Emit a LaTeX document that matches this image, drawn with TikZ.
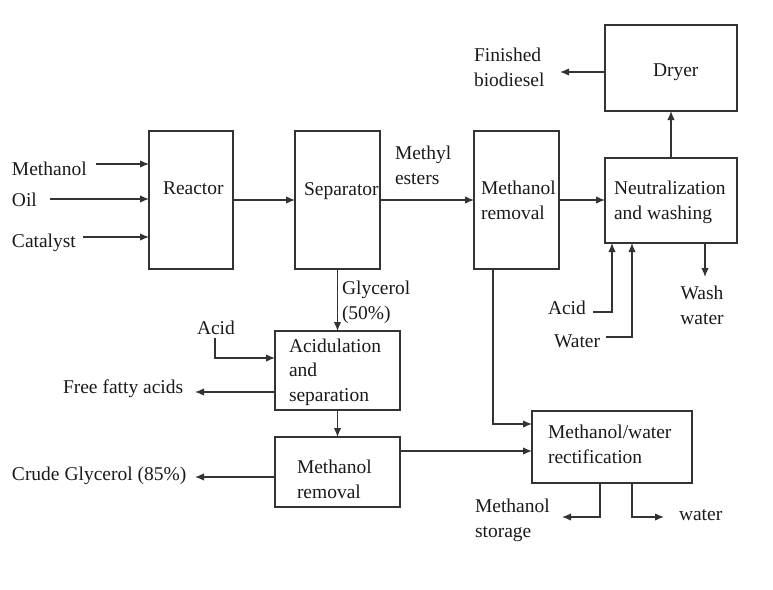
\documentclass[tikz,border=0pt]{standalone}
\usepackage{fontspec}
\setmainfont{Liberation Serif}
\usetikzlibrary{arrows.meta}
\definecolor{ln}{HTML}{333333}
\definecolor{tx}{HTML}{1A1A1A}
\tikzset{
  box/.style={draw=ln, line width=1.3pt, rectangle, inner sep=0pt, outer sep=0pt},
  lbl/.style={anchor=base west, inner sep=0pt, outer sep=0pt, align=left, text=tx, font=\fontsize{19.5}{24.5}\selectfont},
  arr/.style={draw=ln, line width=1.3pt, -{Latex[length=9pt,width=7.5pt]}}
}
\begin{document}
\begin{tikzpicture}[x=1pt,y=-1pt]
\useasboundingbox (0,0) rectangle (773,589);
% boxes
\node[box, minimum width=84pt, minimum height=138pt] (reactor) at (191,200) {};
\node[box, minimum width=85pt, minimum height=138pt] (sep) at (337.5,200) {};
\node[box, minimum width=85pt, minimum height=138pt] (mrA) at (516.5,200) {};
\node[box, minimum width=132pt, minimum height=86pt] (dryer) at (671,68) {};
\node[box, minimum width=132pt, minimum height=85pt] (neut) at (671,200.5) {};
\node[box, minimum width=125pt, minimum height=79pt] (acidb) at (337.5,370.5) {};
\node[box, minimum width=125pt, minimum height=70pt] (mrB) at (337.5,472) {};
\node[box, minimum width=160pt, minimum height=72pt] (rect) at (612,447) {};
% box texts (multi-line: anchored at last line's baseline)
\node[lbl] (tReactor) at (163,194) {Reactor};
\node[lbl] (tSep) at (304,195) {Separator};
\node[lbl] (tMrA) at (481,219) {Methanol\\removal};
\node[lbl] (tDryer) at (653,76) {Dryer};
\node[lbl] (tNeut) at (614,219) {Neutralization\\and washing};
\node[lbl] (tAcidb) at (289,401) {Acidulation\\and\\separation};
\node[lbl] (tMrB) at (297,498) {Methanol\\removal};
\node[lbl] (tRect) at (548,463) {Methanol/water\\rectification};
% outside labels
\node[lbl] (lMeth) at (12,175) {Methanol};
\node[lbl] (lOil) at (12,206) {Oil};
\node[lbl] (lCat) at (12,247) {Catalyst};
\node[lbl] (lME) at (395,184) {Methyl\\esters};
\node[lbl] (lFin) at (474,86) {Finished\\biodiesel};
\node[lbl, align=center, anchor=base] (lWash) at (702,324) {Wash\\water};
\node[lbl] (lAcidR) at (548,314) {Acid};
\node[lbl] (lWaterR) at (554,347) {Water};
\node[lbl] (lMS) at (475,537) {Methanol\\storage};
\node[lbl] (lW) at (679,520) {water};
\node[lbl] (lGly) at (342,319) {Glycerol\\(50\%)};
\node[lbl] (lAcidL) at (197,334) {Acid};
\node[lbl] (lFFA) at (63,393) {Free fatty acids};
\node[lbl] (lCG) at (12,480) {Crude Glycerol (85\%)};
% free ends
\coordinate (cMeth) at (96,164);
\coordinate (cOil) at (50,199);
\coordinate (cCat) at (83,237);
\coordinate (cFin) at (560,72);
\coordinate (cWash) at (705,277);
\coordinate (cAR) at (593,312);
\coordinate (cWR) at (606,337);
\coordinate (cMS) at (562,517);
\coordinate (cW) at (664,517);
\coordinate (cAL) at (215,338);
\coordinate (cFFA) at (195,392);
\coordinate (cCG) at (195,477);
% connectors
\draw[arr] (cMeth) -- (reactor.west |- cMeth);
\draw[arr] (cOil) -- (reactor.west |- cOil);
\draw[arr] (cCat) -- (reactor.west |- cCat);
\draw[arr] (reactor.east) -- (sep.west);
\draw[arr] (sep.east) -- (mrA.west);
\draw[arr] (mrA.east) -- (neut.west |- mrA.east);
\draw[arr] (neut.north) -- (dryer.south);
\draw[arr] (dryer.west |- cFin) -- (cFin);
\draw[arr] (neut.south -| cWash) -- (cWash);
\draw[arr] (cAR) -| ([xshift=7pt]neut.south west);
\draw[arr] (cWR) -| ([xshift=27pt]neut.south west);
\draw[arr] ([xshift=-23.5pt]mrA.south) |- ([yshift=-13pt]rect.north west);
\path ([yshift=21pt]mrB.east) coordinate (j2);
\draw[arr] (j2) -- (rect.west |- j2);
\draw[arr] ([xshift=-12pt]rect.south) |- (cMS);
\draw[arr] ([xshift=20pt]rect.south) |- (cW);
\draw[arr] (sep.south) -- (acidb.north);
\draw[arr] (cAL) |- ([yshift=12.5pt]acidb.west);
\draw[arr] (acidb.west |- cFFA) -- (cFFA);
\draw[arr] (acidb.south) -- (mrB.north);
\draw[arr] (mrB.west |- cCG) -- (cCG);
\end{tikzpicture}
\end{document}
